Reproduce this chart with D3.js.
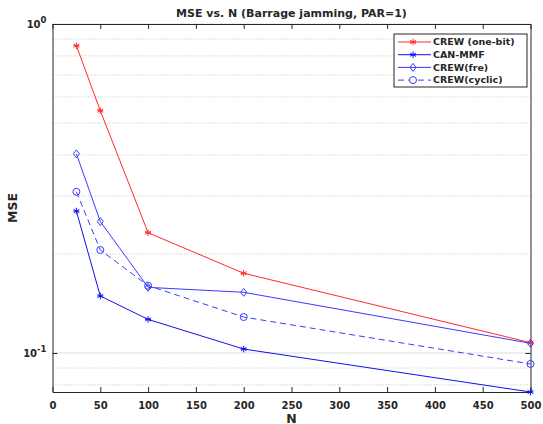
<!DOCTYPE html>
<html>
<head>
<meta charset="utf-8">
<script src="https://cdn.jsdelivr.net/npm/d3@7"></script>
<style>
  body { margin: 0; background: #fff; }
  text { font-family: "DejaVu Sans", sans-serif; font-weight: bold; fill: #262626; }
</style>
</head>
<body>
<svg width="543" height="424"></svg>
<script>
var nValues = [25, 50, 100, 200, 500];
var crewOneBit = [0.859, 0.545, 0.232, 0.1747, 0.1075];
var canMmf = [0.270, 0.149, 0.1265, 0.1028, 0.0761];
var crewFre = [0.403, 0.251, 0.1583, 0.1529, 0.107];
var crewCyclic = [0.309, 0.2056, 0.1602, 0.1286, 0.0926];
var seriesNames = ["CREW (one-bit)", "CAN-MMF", "CREW(fre)", "CREW(cyclic)"];
var xTicks = [0, 50, 100, 150, 200, 250, 300, 350, 400, 450, 500];
var yTicks = [0.1, 1];
var yMinor = [0.08, 0.09, 0.2, 0.3, 0.4, 0.5, 0.6, 0.7, 0.8, 0.9];

var svg = d3.select("svg"),
    plotLeft = 52.5, plotRight = 530.5, plotTop = 24, plotBottom = 392;

var x = d3.scaleLinear()
    .domain([0, 500])
    .range([plotLeft, plotRight]);

var y = d3.scaleLog()
    .domain([0.0761, 1])
    .range([plotBottom, plotTop]);

var series = [
    { name: seriesNames[0], values: crewOneBit, color: "#ff2a2a", marker: "star", dash: null },
    { name: seriesNames[1], values: canMmf, color: "#1010f0", marker: "star", dash: null },
    { name: seriesNames[2], values: crewFre, color: "#3a3aff", marker: "diamond", dash: null },
    { name: seriesNames[3], values: crewCyclic, color: "#3a3aff", marker: "circle", dash: "6,4" }
];

// grid
svg.append("g").selectAll("line")
    .data(yMinor)
    .join("line")
    .attr("x1", plotLeft).attr("x2", plotRight)
    .attr("y1", d => y(d)).attr("y2", d => y(d))
    .attr("stroke", "#c0c0c0")
    .attr("stroke-width", 1)
    .attr("stroke-dasharray", "1,2");

svg.append("g").selectAll("line")
    .data(yTicks)
    .join("line")
    .attr("x1", plotLeft).attr("x2", plotRight)
    .attr("y1", d => y(d)).attr("y2", d => y(d))
    .attr("stroke", "#dedede")
    .attr("stroke-width", 1);

// axes
var xAxis = svg.append("g")
    .attr("transform", "translate(0," + plotBottom + ")")
    .call(d3.axisBottom(x).tickValues(xTicks).tickSizeInner(-5).tickSizeOuter(0).tickPadding(10));

var xAxisTop = svg.append("g")
    .attr("transform", "translate(0," + plotTop + ")")
    .call(d3.axisTop(x).tickValues(xTicks).tickSizeInner(-5).tickSizeOuter(0).tickFormat(""));

var yAxis = svg.append("g")
    .attr("transform", "translate(" + plotLeft + ",0)")
    .call(d3.axisLeft(y).tickValues(yTicks).tickSizeInner(-5).tickSizeOuter(0).tickPadding(6));

var yAxisRight = svg.append("g")
    .attr("transform", "translate(" + plotRight + ",0)")
    .call(d3.axisRight(y).tickValues(yTicks).tickSizeInner(-5).tickSizeOuter(0).tickFormat(""));

[xAxis, xAxisTop, yAxis, yAxisRight].forEach(a => {
    a.select(".domain").attr("stroke", "#262626").attr("stroke-width", 1);
    a.selectAll(".tick line").attr("stroke", "#262626");
    a.selectAll("text").attr("font-size", 10).attr("font-family", null).attr("fill", "#262626");
});

yAxis.selectAll(".tick text")
    .attr("dy", "0.32em")
    .each(function(d) {
        var t = d3.select(this).text("");
        t.append("tspan").text("10");
        t.append("tspan").attr("dy", "-0.55em").attr("font-size", 8.5).text(Math.round(Math.log10(d)));
    });

// lines
var line = d3.line()
    .x((d, i) => x(nValues[i]))
    .y(d => y(d));

var star = d3.symbol().type(d3.symbolAsterisk).size(30);

function drawMarker(g, type, color) {
    if (type == "star") {
        g.append("path").attr("d", star()).attr("fill", "none").attr("stroke", color);
        g.append("line").attr("x1", -3).attr("x2", 3).attr("stroke", color);
    } else if (type == "diamond") {
        g.append("path").attr("d", "M0,-4L3,0L0,4L-3,0Z").attr("fill", "none").attr("stroke", color);
    } else {
        g.append("circle").attr("r", 3.5).attr("fill", "none").attr("stroke", color);
    }
}

series.forEach(s => {
    svg.append("path")
        .attr("d", line(s.values))
        .attr("fill", "none")
        .attr("stroke", s.color)
        .attr("stroke-width", 1)
        .attr("stroke-dasharray", s.dash);
    s.values.forEach((v, i) => {
        var g = svg.append("g").attr("transform", "translate(" + x(nValues[i]) + "," + y(v) + ")");
        drawMarker(g, s.marker, s.color);
    });
});

// legend
var legend = svg.append("g").attr("transform", "translate(394,34)");
legend.append("rect")
    .attr("width", 133).attr("height", 53)
    .attr("fill", "#fff")
    .attr("stroke", "#262626")
    .attr("stroke-width", 1);

series.forEach((s, i) => {
    var row = legend.append("g").attr("transform", "translate(0," + (8 + i * 12.7) + ")");
    row.append("line")
        .attr("x1", 4).attr("x2", 37)
        .attr("stroke", s.color)
        .attr("stroke-dasharray", s.dash);
    var m = row.append("g").attr("transform", "translate(19,0)");
    if (s.dash) m.append("rect").attr("x", -4).attr("y", -4).attr("width", 8).attr("height", 8).attr("fill", "#fff");
    drawMarker(m, s.marker, s.color);
    row.append("text")
        .attr("x", 39).attr("dy", "0.35em")
        .attr("font-size", 9.5)
        .text(s.name);
});

// labels
svg.append("text")
    .attr("x", (plotLeft + plotRight) / 2).attr("y", 17)
    .attr("text-anchor", "middle")
    .attr("font-size", 11)
    .text("MSE vs. N (Barrage jamming, PAR=1)");

svg.append("text")
    .attr("x", (plotLeft + plotRight) / 2).attr("y", 422.5)
    .attr("text-anchor", "middle")
    .attr("font-size", 12.5)
    .text("N");

svg.append("text")
    .attr("transform", "translate(17,208) rotate(-90)")
    .attr("text-anchor", "middle")
    .attr("font-size", 12.5)
    .text("MSE");
</script>
</body>
</html>
